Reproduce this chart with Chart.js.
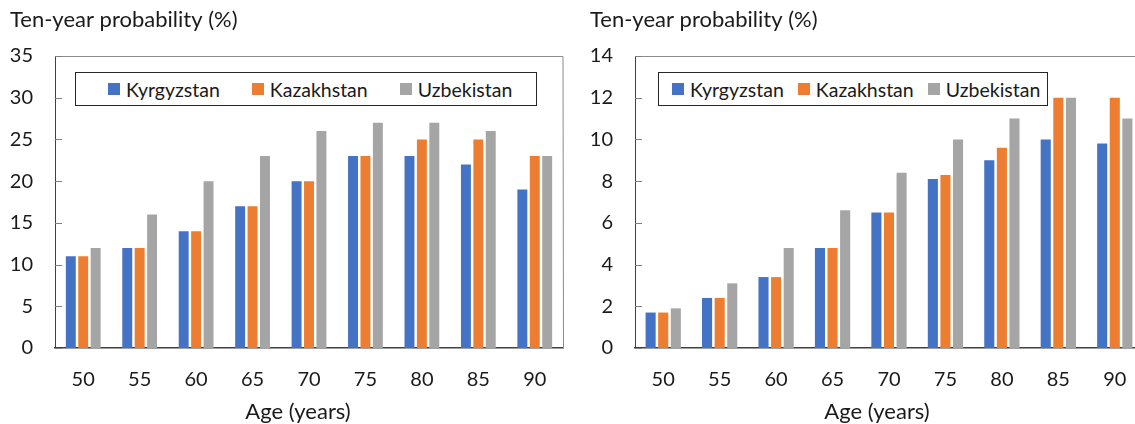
<!DOCTYPE html>
<html lang="en">
<head>
    <meta charset="UTF-8">
    <title>Ten-year probability by age</title>
    <script src="https://cdn.jsdelivr.net/npm/chart.js"></script>
    <style>
        body {
            margin: 0;
            width: 1135px;
            height: 424px;
            overflow: hidden;
            position: relative;
            background: #fff;
            font-family: Lato, 'Liberation Sans', sans-serif;
        }
        .panel {
            position: absolute;
            top: 0;
            width: 567px;
            height: 424px;
        }
        .panel canvas {
            display: block;
        }
        .legend {
            position: absolute;
            top: 72px;
            height: 34px;
            box-sizing: border-box;
            border: 1px solid #262626;
            background: #fff;
            display: flex;
            align-items: center;
            font-size: 19.5px;
            color: #1a1a1a;
            white-space: nowrap;
        }
        .legend .item {
            display: flex;
            align-items: center;
        }
        .legend .swatch {
            width: 12px;
            height: 12px;
            margin-right: 6px;
        }
        .xtitle {
            position: absolute;
            top: 398px;
            width: 200px;
            height: 26px;
            line-height: 26px;
            text-align: center;
            font-size: 22px;
            color: #1a1a1a;
        }
    </style>
</head>
<body>
    <div class="panel" style="left:0">
        <canvas id="chartLeft" width="567" height="424"></canvas>
        <div class="legend" id="legendLeft" style="left:75px; width:462px; padding-left:32px"></div>
        <div class="xtitle" id="xTitleLeft" style="left:198px"></div>
    </div>
    <div class="panel" style="left:580px">
        <canvas id="chartRight" width="567" height="424"></canvas>
        <div class="legend" id="legendRight" style="left:78px; width:390px; padding-left:13px"></div>
        <div class="xtitle" id="xTitleRight" style="left:197px"></div>
    </div>

    <script>
        const ages = ['50', '55', '60', '65', '70', '75', '80', '85', '90'];
        const countries = ['Kyrgyzstan', 'Kazakhstan', 'Uzbekistan'];
        const colors = ['#4472C4', '#ED7D31', '#A5A5A5'];

        // left panel
        const leftKyrgyzstan = [11, 12, 14, 17, 20, 23, 23, 22, 19];
        const leftKazakhstan = [11, 12, 14, 17, 20, 23, 25, 25, 23];
        const leftUzbekistan = [12, 16, 20, 23, 26, 27, 27, 26, 23];

        // right panel
        const rightKyrgyzstan = [1.7, 2.4, 3.4, 4.8, 6.5, 8.1, 9.0, 10.0, 9.8];
        const rightKazakhstan = [1.7, 2.4, 3.4, 4.8, 6.5, 8.3, 9.6, 12, 12];
        const rightUzbekistan = [1.9, 3.1, 4.8, 6.6, 8.4, 10, 11, 12, 11];

        const yTitle = 'Ten-year probability (%)';
        const xTitle = 'Age (years)';

        const fontFamily = "Lato, 'Liberation Sans', sans-serif";
        const textColor = '#1a1a1a';

        // plot frame (top + right) and short inward tick marks on the y axis
        const framePlugin = {
            id: 'frame',
            afterDraw(chart) {
                const { ctx, chartArea } = chart;
                const y = chart.scales.y;
                ctx.save();
                ctx.strokeStyle = '#8c8c8c';
                ctx.lineWidth = 1;
                ctx.beginPath();
                ctx.moveTo(chartArea.left, chartArea.top + 0.5);
                ctx.lineTo(chartArea.right, chartArea.top + 0.5);
                ctx.lineTo(chartArea.right + 0.5, chartArea.bottom);
                ctx.stroke();

                ctx.strokeStyle = '#7f7f7f';
                ctx.beginPath();
                y.ticks.forEach((t) => {
                    const py = Math.round(y.getPixelForValue(t.value)) + 0.5;
                    ctx.moveTo(chartArea.left, py);
                    ctx.lineTo(chartArea.left + 7, py);
                });
                ctx.stroke();
                ctx.restore();
            }
        };

        function makeChart(canvasId, series, yMax, yStep, catPct) {
            const ctx = document.getElementById(canvasId).getContext('2d');
            return new Chart(ctx, {
                type: 'bar',
                data: {
                    labels: ages,
                    datasets: series.map((values, i) => ({
                        label: countries[i],
                        data: values,
                        backgroundColor: colors[i],
                        borderWidth: 0,
                        barPercentage: 0.8,
                        categoryPercentage: catPct
                    }))
                },
                options: {
                    responsive: false,
                    animation: false,
                    layout: { padding: { left: 10, right: 4, top: 0, bottom: 0 } },
                    plugins: {
                        legend: { display: false },
                        tooltip: { enabled: false },
                        title: {
                            display: true,
                            text: yTitle,
                            align: 'start',
                            color: textColor,
                            font: { family: fontFamily, size: 22, weight: 'normal' },
                            padding: { top: 7, bottom: 22.6 }
                        }
                    },
                    scales: {
                        x: {
                            afterFit: (scale) => { scale.height = 76; },
                            grid: { display: false, drawTicks: false },
                            border: { display: true, color: '#404040', width: 1.5 },
                            ticks: {
                                color: textColor,
                                padding: 20,
                                maxRotation: 0,
                                font: { family: fontFamily, size: 20 }
                            }
                        },
                        y: {
                            min: 0,
                            max: yMax,
                            afterFit: (scale) => { scale.width = 45; },
                            grid: { display: false, drawTicks: false },
                            border: { display: true, color: '#404040', width: 1 },
                            ticks: {
                                stepSize: yStep,
                                color: textColor,
                                padding: 22,
                                font: { family: fontFamily, size: 20 }
                            }
                        }
                    }
                },
                plugins: [framePlugin]
            });
        }

        function makeLegend(id, gap) {
            const box = document.getElementById(id);
            countries.forEach((name, i) => {
                const item = document.createElement('div');
                item.className = 'item';
                if (i > 0) item.style.marginLeft = gap + 'px';
                const sw = document.createElement('span');
                sw.className = 'swatch';
                sw.style.background = colors[i];
                const txt = document.createElement('span');
                txt.textContent = name;
                item.appendChild(sw);
                item.appendChild(txt);
                box.appendChild(item);
            });
        }

        makeChart('chartLeft', [leftKyrgyzstan, leftKazakhstan, leftUzbekistan], 35, 5, 0.66);
        makeChart('chartRight', [rightKyrgyzstan, rightKazakhstan, rightUzbekistan], 14, 2, 0.67);
        makeLegend('legendLeft', 32);
        makeLegend('legendRight', 14);
        document.getElementById('xTitleLeft').textContent = xTitle;
        document.getElementById('xTitleRight').textContent = xTitle;
    </script>
</body>
</html>
